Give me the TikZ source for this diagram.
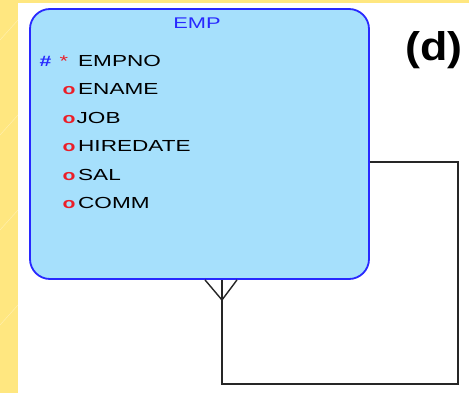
\documentclass[tikz,border=0pt]{standalone}
\usepackage{fontspec}
\newfontfamily\erfont[FakeStretch=1.41]{Liberation Sans}
\newfontfamily\labfont[FakeStretch=1.12]{Liberation Sans}
\definecolor{bgyellow}{RGB}{255,231,128}
\definecolor{entfill}{RGB}{166,224,252}
\definecolor{entline}{RGB}{40,40,255}
\definecolor{keyred}{RGB}{235,30,40}
\tikzset{
  entity/.style={draw=entline, fill=entfill, line width=1.8pt, rounded corners=20pt, inner sep=0pt},
  attr/.style={anchor=base west, inner sep=0pt, font=\erfont\fontsize{16}{18}\selectfont, text=black},
  keymark/.style={anchor=base west, inner sep=0pt, font=\erfont\bfseries\fontsize{15}{18}\selectfont},
  conn/.style={draw=black!85, line width=1.4pt},
}
\begin{document}
\begin{tikzpicture}[x=1pt,y=-1pt]
\useasboundingbox (0,0) rectangle (469,393);
\fill[bgyellow] (0,0) rectangle (469,393);
\fill[white] (18,3) rectangle (469,393);
\foreach \i in {0,1,2,3}{
  \draw[white, opacity=0.35, line width=0.5pt] (0,40+95*\i) -- (18,20+95*\i);
}
\node[entity, minimum width=339pt, minimum height=270pt] (emp) at (199.5,144) {};
\node[anchor=base, inner sep=0pt, text=entline, font=\erfont\fontsize{15.5}{18}\selectfont] (title) at (197,28.3) {EMP};
\node[keymark, text=entline] (hash) at (39.5,66.5) {\#};
\node[keymark, text=keyred, font=\erfont\fontsize{15.5}{18}\selectfont] (star) at (59.5,66.5) {*};
\node[attr] (a1) at (78,66.5) {EMPNO};
\node[keymark, text=keyred] (o2) at (62.5,94.9) {o};
\node[attr] (a2) at (78,94.9) {ENAME};
\node[keymark, text=keyred] (o3) at (62.5,123.3) {o};
\node[attr] (a3) at (76.5,123.3) {JOB};
\node[keymark, text=keyred] (o4) at (62.5,151.7) {o};
\node[attr] (a4) at (78,151.7) {HIREDATE};
\node[keymark, text=keyred] (o5) at (62.5,180.1) {o};
\node[attr] (a5) at (78,180.1) {SAL};
\node[keymark, text=keyred] (o6) at (62.5,208.5) {o};
\node[attr] (a6) at (78,208.5) {COMM};
\node[inner sep=0pt, font=\labfont\bfseries\fontsize{40}{44}\selectfont] (lab) at (434,50) {(d)};
\coordinate (r1) at (458,162);
\coordinate (r2) at (458,384);
\coordinate (r3) at (222,384);
\coordinate (foot) at (222,300);
\draw[conn] (emp.east |- r1) -- (r1) -- (r2) -- (r3) -- (foot);
\draw[conn] (foot) -- (foot |- emp.south);
\draw[conn] (foot) -- ([xshift=-17pt]foot |- emp.south);
\draw[conn] (foot) -- ([xshift=15pt]foot |- emp.south);
\end{tikzpicture}
\end{document}
